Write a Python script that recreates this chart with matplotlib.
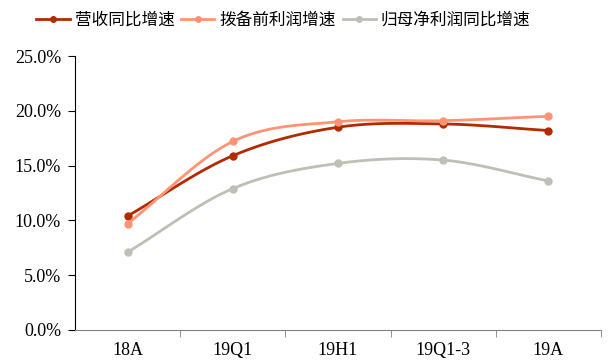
import numpy as np
import matplotlib.pyplot as plt
from matplotlib.ticker import FuncFormatter, FixedLocator

plt.rcParams['font.family'] = ['Liberation Serif', 'Noto Sans CJK SC']

periods = ['18A', '19Q1', '19H1', '19Q1-3', '19A']
revenue_growth = [10.4, 15.9, 18.5, 18.8, 18.2]
ppop_growth = [9.7, 17.2, 19.0, 19.1, 19.5]
net_profit_growth = [7.1, 12.9, 15.2, 15.5, 13.6]

names = ['营收同比增速', '拨备前利润增速', '归母净利润同比增速']
colors = ['#B22A00', '#FF9474', '#BFBFB5']


def smooth(x, y, n=30):
    # catmull-rom style curve through the points, like a spreadsheet "smoothed line"
    x = np.asarray(x, float)
    y = np.asarray(y, float)
    px = np.concatenate([[2 * x[0] - x[1]], x, [2 * x[-1] - x[-2]]])
    py = np.concatenate([[2 * y[0] - y[1]], y, [2 * y[-1] - y[-2]]])
    xs, ys = [], []
    t = np.linspace(0, 1, n)
    for i in range(1, len(px) - 2):
        p0, p1, p2, p3 = (np.array([px[j], py[j]]) for j in range(i - 1, i + 3))
        c1 = p1 + (p2 - p0) / 6
        c2 = p2 - (p3 - p1) / 6
        pts = ((1 - t) ** 3)[:, None] * p1 + (3 * (1 - t) ** 2 * t)[:, None] * c1 \
            + (3 * (1 - t) * t ** 2)[:, None] * c2 + (t ** 3)[:, None] * p2
        xs.append(pts[:, 0])
        ys.append(pts[:, 1])
    return np.concatenate(xs), np.concatenate(ys)


fig = plt.figure(figsize=(6.11, 3.62), dpi=100)
ax = fig.add_axes([0.1227, 0.0884, 0.861, 0.7569])

x = np.arange(len(periods))
for vals, name, c in zip([revenue_growth, ppop_growth, net_profit_growth], names, colors):
    sx, sy = smooth(x, vals)
    ax.plot(sx, sy, color=c, lw=2.0, solid_capstyle='round')
    ax.plot(x, vals, 'o', color=c, ms=5)
    ax.plot([], [], color=c, lw=2.0, marker='o', ms=4, label=name)

ax.set_xlim(-0.5, len(periods) - 0.5)
ax.set_ylim(0, 25)
ax.set_yticks(np.arange(0, 25.1, 5))
ax.yaxis.set_major_formatter(FuncFormatter(lambda v, p: f'{v:.1f}%'))
ax.set_xticks(x)
ax.set_xticklabels(periods)
ax.xaxis.set_minor_locator(FixedLocator(np.arange(0.5, len(periods), 1)))
ax.tick_params(axis='x', which='major', length=0, pad=9, labelsize=13)
ax.tick_params(axis='x', which='minor', length=5, color='#808080')
ax.tick_params(axis='y', length=5, labelsize=13, pad=5)

for s in ['top', 'right']:
    ax.spines[s].set_visible(False)
ax.spines['bottom'].set_color('#808080')
ax.spines['left'].set_color('#000000')

fig.legend(loc='upper left', bbox_to_anchor=(0.035, 1.008), ncol=3, frameon=False,
           prop={'family': 'Noto Sans CJK SC', 'size': 12}, handlelength=2.0,
           columnspacing=0.4, handletextpad=0.3)

plt.savefig('out.png', dpi=100)
